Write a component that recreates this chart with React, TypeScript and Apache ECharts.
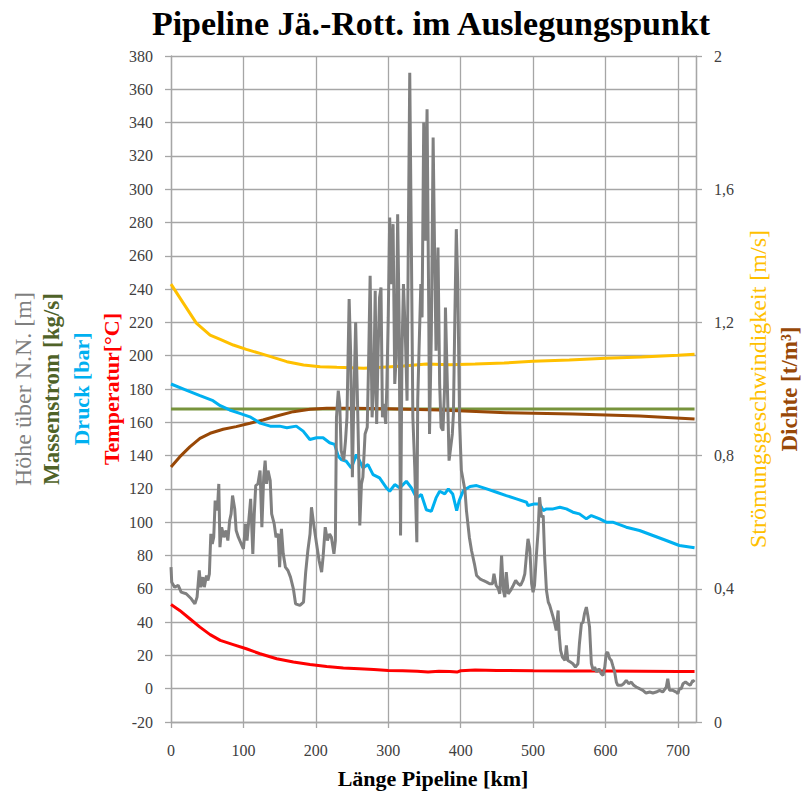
import React, { useEffect, useRef } from 'react';
import * as echarts from 'echarts';

// ---- data (km, value) ----
const hoehe: number[][] = [
  [0, 73], [1, 64], [5, 61], [10, 62], [14, 58], [21, 57], [28, 54], [33, 51], [36, 55], [39, 71], [41, 61], [44, 67], [46, 61], [49, 68], [51, 65], [53, 69], [55, 93], [57, 87], [59, 91], [61, 113], [64, 107], [66, 123], [67.6, 85], [70, 97], [73, 91], [76, 95], [78.5, 89], [81, 101], [83, 105], [85, 116], [88, 108], [90, 95], [93, 91], [97, 87], [100, 84], [103, 99], [105, 89], [107, 99], [110, 114], [113, 81], [115, 105], [117, 122], [120, 123], [123, 131], [125.5, 97], [128, 127], [130, 137], [132, 123], [134, 131], [137, 125], [139, 105], [142.5, 99], [145, 91], [148, 93], [150, 73], [152.5, 96], [155, 81], [158, 73], [161.5, 71], [165, 67], [169, 60],
  [172, 51], [178, 50], [183, 52], [186, 70], [189, 83], [192, 93], [194, 109], [197, 99], [201, 87], [204.5, 77], [208, 70], [210, 79], [213, 97], [216, 89], [219, 93], [221.5, 91], [225, 81], [227, 89],
  [228.5, 163], [231, 179], [233, 171], [235, 143], [238.5, 137], [241, 149], [243, 163], [246, 234], [248, 203], [250.5, 127], [252, 163], [255, 220], [257, 183], [259, 143], [260.7, 98], [263, 123], [265, 127], [268, 153], [271, 157], [273, 199], [275, 248], [277.7, 163], [280, 183], [282, 239], [284, 159], [286, 203], [288, 235], [290, 241], [292, 163], [294, 171], [296.5, 159], [298, 181], [300, 223], [302, 283], [304, 243], [306.7, 279], [309, 183], [311, 199], [313, 285], [315, 223], [317, 92], [319, 203], [321, 243], [323.7, 211], [326, 173], [328, 283], [329.7, 370], [332, 263], [334, 163], [336.6, 133], [339.5, 88], [340.7, 173], [342.5, 203], [345, 243], [346.7, 223], [349, 340], [351, 269], [353.6, 348], [356, 223], [357, 153], [359.5, 213], [362, 331], [364, 263], [366, 203], [368.7, 265], [371, 183], [373, 157], [375.6, 155], [378, 183], [379, 229], [381.6, 183], [384, 137], [385.7, 143], [388.5, 153], [390, 165], [392, 223], [394, 276], [396, 243], [398.6, 159],
  [401, 131], [406, 119], [408, 107], [412, 91], [415, 83], [419, 75], [422, 68], [426.6, 66], [431, 65], [436, 64], [440, 63], [444, 63], [446, 69], [449, 62], [452, 60], [454, 57], [456.5, 80], [459, 59], [461, 55], [463, 70], [465.7, 57], [469, 59], [472.6, 62], [476, 65], [479.5, 63], [482.7, 62], [486, 65], [488.6, 69], [491, 81], [493, 90], [495.5, 84], [498, 63], [500, 58], [502, 62], [504.7, 81], [507, 95], [509, 115], [511.6, 103], [514, 104], [516, 79], [518.5, 59], [521, 52], [523, 50], [525, 47], [527.7, 43], [530, 39], [532, 35], [534.6, 47], [536, 33], [538, 23], [540.5, 19], [544, 17], [546, 26], [548, 17], [551.6, 16], [555, 15], [558.5, 13], [562, 15], [564, 27], [566.7, 39], [569, 40], [571, 45], [573.6, 49], [576, 43], [578, 37], [580.5, 15], [583, 11], [585, 13], [588, 10], [591, 12], [594, 9], [596.6, 8], [599, 13], [601, 21], [603, 22], [605.8, 18], [608, 17], [610, 14], [612.7, 10], [615, 4], [617, 2], [622, 2], [625, 3], [628.7, 5], [632, 3], [635.6, 4], [639, 2], [642.5, 1], [647, 0], [651.7, -1], [656, -2.6], [661, -2], [665.5, -2.6], [670, -2], [674.7, -1], [679, -2], [684, 1], [686, 6], [688.5, -1], [693, -1], [697.7, -2], [700, -3], [702, 0], [704.6, 0], [707, 3], [710.5, 4], [713.7, 3], [717, 2], [720.6, 5], [723, 4]
];

const massenstrom: number[][] = [[0, 168], [723, 168]];

const druck: number[][] = [
  [0, 183], [20, 179.5], [40, 176], [58, 173], [68, 170], [81, 167.4], [95, 165.4], [109, 163.3], [123, 159.5], [137, 157.7], [150, 157.7], [160, 156.7], [173, 157.7], [182.5, 154.7], [191.7, 149.7], [201, 150.7], [210, 150.7], [219, 147.7], [226, 146.7], [231, 139.6], [235, 137.6], [242, 136.6], [249, 132.6], [256, 140.6], [260.7, 136.6], [265, 132.6], [272, 134.6], [279, 128.6], [288, 126.6], [297.5, 120.6], [302, 118.6], [309, 122.6], [316, 120.6], [325, 124.6], [332, 120.6], [339, 114.6], [345.7, 116.6], [352.6, 107.5], [359.5, 106.5], [366, 114.6], [371, 118.6], [378, 117], [383, 120], [389, 117], [394.5, 107], [398, 113], [403.7, 119], [413, 121.4], [422, 122], [436, 120], [449.6, 118], [463, 116], [477, 114], [491, 112], [493, 110], [502, 111], [509, 111], [514, 107], [518.5, 108], [527.7, 108], [537, 109], [546, 108], [555, 106], [564, 105], [573.6, 102], [580.5, 104], [592, 102], [601, 100], [610, 100], [628.7, 97], [647, 95], [665.5, 92], [684, 89], [702, 86], [723, 84.6]
];

const temperatur: number[][] = [
  [0, 50.5], [12, 47], [26, 42], [40, 37], [54, 32.5], [68, 29], [86, 26.5], [104, 24], [123, 21], [146, 18], [169, 16], [192, 14.5], [215, 13.4], [238, 12.5], [260, 12], [280, 11.5], [300, 11], [320, 10.8], [340, 10.5], [355, 10], [370, 10.5], [385, 10.4], [395, 10], [400, 10.8], [420, 11.2], [450, 11], [500, 10.8], [550, 10.7], [600, 10.6], [650, 10.5], [700, 10.4], [723, 10.4]
];

const stroemung: number[][] = [
  [0, 1.315], [17, 1.258], [35, 1.198], [54, 1.162], [68, 1.149], [86, 1.132], [104, 1.119], [123, 1.107], [141, 1.095], [160, 1.082], [183, 1.072], [206, 1.067], [229, 1.065], [266, 1.062], [298, 1.066], [321, 1.069], [353, 1.075], [385, 1.073], [420, 1.075], [460, 1.078], [500, 1.083], [550, 1.087], [600, 1.092], [650, 1.096], [700, 1.101], [723, 1.104]
];

const dichte: number[][] = [
  [0, 0.766], [12, 0.796], [26, 0.826], [40, 0.852], [54, 0.867], [72, 0.879], [90, 0.887], [109, 0.897], [127, 0.907], [146, 0.919], [169, 0.932], [192, 0.939], [215, 0.942], [251, 0.942], [300, 0.941], [371, 0.937], [463, 0.929], [555, 0.925], [647, 0.919], [723, 0.91]
];

const SERIF = '"Liberation Serif", "Times New Roman", serif';
const GRID = '#a6a6a6';

export default function App() {
  const ref = useRef<HTMLDivElement>(null);
  useEffect(() => {
    const chart = echarts.init(ref.current!, null, { renderer: 'svg' });
    const vText = (text: string, x: number, color: string, size: number, bold: boolean) => ({
      type: 'text',
      x,
      y: 389,
      rotation: Math.PI / 2,
      style: {
        text,
        fill: color,
        font: `${bold ? 'bold ' : ''}${size}px ${SERIF}`,
        textAlign: 'center',
        textVerticalAlign: 'middle',
      },
    });
    chart.setOption({
      animation: false,
      backgroundColor: '#ffffff',
      grid: { left: 171, right: 107, top: 56, bottom: 74 },
      xAxis: {
        type: 'value',
        min: 0,
        max: 725,
        interval: 100,
        axisLine: { show: true, onZero: false, lineStyle: { color: GRID, width: 1.3 } },
        axisTick: { show: true, length: 6, lineStyle: { color: GRID, width: 1.3 } },
        axisLabel: { showMaxLabel: false, margin: 20, color: '#404040', fontSize: 16, fontFamily: SERIF },
        splitLine: { show: true, lineStyle: { color: GRID, width: 1.3 } },
      },
      yAxis: [
        {
          type: 'value',
          min: -20,
          max: 380,
          interval: 20,
          axisLine: { show: true, lineStyle: { color: GRID, width: 1.3 } },
          axisTick: { show: true, length: 6, lineStyle: { color: GRID, width: 1.3 } },
          axisLabel: { margin: 18, color: '#404040', fontSize: 16, fontFamily: SERIF },
          splitLine: { show: true, lineStyle: { color: GRID, width: 1.3 } },
        },
        {
          type: 'value',
          min: 0,
          max: 2,
          interval: 0.4,
          position: 'right',
          axisLine: { show: true, lineStyle: { color: GRID, width: 1.3 } },
          axisTick: { show: true, length: 6, lineStyle: { color: GRID, width: 1.3 } },
          axisLabel: {
            margin: 18,
            color: '#404040',
            fontSize: 16,
            fontFamily: SERIF,
            formatter: (v: number) => String(Number(v.toFixed(1))).replace('.', ','),
          },
          splitLine: { show: false },
        },
      ],
      series: [
        { name: 'Massenstrom', type: 'line', data: massenstrom, showSymbol: false, lineStyle: { color: '#77933c', width: 3 } },
        { name: 'Temperatur', type: 'line', data: temperatur, showSymbol: false, lineStyle: { color: '#ff0000', width: 3 } },
        { name: 'Strömungsgeschwindigkeit', type: 'line', yAxisIndex: 1, data: stroemung, showSymbol: false, lineStyle: { color: '#ffc000', width: 3 } },
        { name: 'Dichte', type: 'line', yAxisIndex: 1, data: dichte, showSymbol: false, lineStyle: { color: '#984807', width: 3 } },
        { name: 'Druck', type: 'line', data: druck, showSymbol: false, lineStyle: { color: '#00b0f0', width: 3 } },
        { name: 'Höhe', type: 'line', data: hoehe, showSymbol: false, lineStyle: { color: '#808080', width: 3 } },
      ],
      graphic: [
        {
          type: 'text',
          x: 431,
          y: 23,
          style: {
            text: 'Pipeline Jä.-Rott. im Auslegungspunkt',
            fill: '#000000',
            font: `bold 34px ${SERIF}`,
            textAlign: 'center',
            textVerticalAlign: 'middle',
          },
        },
        {
          type: 'text',
          x: 433,
          y: 778,
          style: {
            text: 'Länge Pipeline [km]',
            fill: '#000000',
            font: `bold 22px ${SERIF}`,
            textAlign: 'center',
            textVerticalAlign: 'middle',
          },
        },
        vText('Höhe über N.N. [m]', 23, '#7f7f7f', 24, false),
        vText('Massenstrom [kg/s]', 51, '#4f6228', 23, true),
        vText('Druck [bar]', 81, '#00b0f0', 22, true),
        vText('Temperatur[°C]', 111, '#ff0000', 22, true),
        vText('Strömungsgeschwindigkeit [m/s]', 758, '#ffc000', 24, false),
        vText('Dichte [t/m³]', 789, '#984807', 23, true),
      ],
    });
    return () => chart.dispose();
  }, []);
  return <div ref={ref} style={{ position: 'fixed', left: 0, top: 0, width: 803, height: 796 }} />;
}
